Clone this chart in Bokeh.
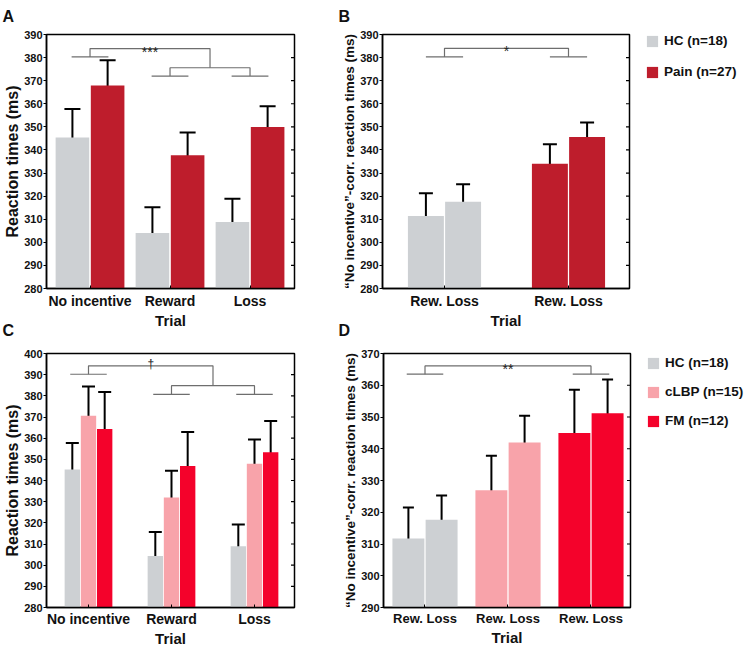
from bokeh.plotting import figure
from bokeh.models import (ColumnDataSource, Whisker, TeeHead, FixedTicker,
                          Range1d, Legend, LegendItem, Title)
from bokeh.layouts import row, column
from bokeh.embed import file_html
from bokeh.resources import INLINE
from bokeh.core.properties import value

FONT = "Liberation Sans"
HC_C = "#cdd0d3"
PAIN_C = "#be1d2c"
CLBP_C = "#f8a3aa"
FM_C = "#f4022b"
BR_C = "#6e6e6e"

# ---------------- data ----------------
trials = ["No incentive", "Reward", "Loss"]

# Panel A (HC vs Pain)
a_hc_mean = [345.4, 304.0, 308.8]
a_hc_lo = [333.2, 292.8, 298.6]
a_hc_hi = [357.7, 315.2, 318.9]
a_pain_mean = [367.9, 337.7, 349.9]
a_pain_lo = [357.5, 327.9, 341.3]
a_pain_hi = [378.9, 347.6, 358.9]

# Panel B (no-incentive corrected; each group: Rew., Loss)
b_groups = ["HC", "Pain"]
b_ticklabels = ["Rew. Loss", "Rew. Loss"]
b_hc_mean = [311.4, 317.6]
b_hc_lo = [301.6, 310.2]
b_hc_hi = [321.2, 325.1]
b_pain_mean = [334.0, 345.6]
b_pain_lo = [325.5, 338.9]
b_pain_hi = [342.5, 351.9]

# Panel C (HC, cLBP, FM)
c_hc_mean = [345.2, 304.3, 308.9]
c_hc_lo = [333.2, 293.3, 298.6]
c_hc_hi = [357.7, 315.7, 319.2]
c_clbp_mean = [370.6, 332.0, 347.9]
c_clbp_lo = [356.9, 319.5, 336.8]
c_clbp_hi = [384.4, 344.6, 359.4]
c_fm_mean = [364.3, 346.8, 353.3]
c_fm_lo = [346.9, 331.0, 338.9]
c_fm_hi = [381.8, 362.9, 368.1]

# Panel D (no-incentive corrected; groups HC, cLBP, FM; each Rew., Loss)
d_ticklabels = ["Rew. Loss", "Rew. Loss", "Rew. Loss"]
d_hc_mean = [311.7, 317.6]
d_hc_lo = [302.0, 310.3]
d_hc_hi = [321.5, 325.3]
d_clbp_mean = [326.9, 342.0]
d_clbp_lo = [316.2, 333.8]
d_clbp_hi = [337.8, 350.4]
d_fm_mean = [345.0, 351.2]
d_fm_lo = [331.5, 340.7]
d_fm_hi = [358.6, 361.8]

# significance bracket levels (ms)
a_br = dict(short=380.3, top=383.9, mid=375.6, low=372.0, mark="***")
b_br = dict(short=380.3, top=384.0, mark="*")
c_br = dict(short=390.2, top=394.2, mid=384.8, low=380.7, mark="\u2020")
d_br = dict(short=363.5, top=366.1, mark="**")


def base_fig(fw, fh, xr, yr, yticks, mbl, mbr, mbt, mbb, letter, loff, lstand, transparent=False):
    p = figure(frame_width=fw, frame_height=fh, x_range=Range1d(*xr), y_range=Range1d(*yr),
               output_backend="svg", toolbar_location=None,
               min_border_left=mbl, min_border_right=mbr, min_border_top=mbt, min_border_bottom=mbb,
               background_fill_color="white",
               border_fill_color=None if transparent else "white",
               title=Title(text=letter, align="left", offset=loff, standoff=lstand,
                           vertical_align="top",
                           text_font=FONT, text_font_style="bold", text_font_size="16px",
                           text_color="#111111"))
    p.grid.visible = False
    p.outline_line_color = "black"
    p.outline_line_width = 1.5
    p.outline_line_alpha = 1.0
    ya = p.yaxis[0]
    ya.ticker = FixedTicker(ticks=yticks)
    ya.major_tick_out = 3
    ya.major_tick_in = 0
    ya.minor_tick_out = 0
    ya.minor_tick_in = 0
    ya.axis_line_width = 1.5
    ya.major_tick_line_width = 1.2
    ya.major_label_text_font = FONT
    ya.major_label_text_font_style = "bold"
    ya.major_label_text_font_size = "11px"
    ya.major_label_text_color = "#111111"
    ya.major_label_standoff = 1
    ya.axis_label_text_font = FONT
    ya.axis_label_text_font_style = "bold"
    ya.axis_label_text_color = "#111111"
    # inward ticks on the right edge of the frame
    du = (xr[1] - xr[0]) / fw
    p.segment(x0=[xr[1]] * len(yticks), y0=yticks, x1=[xr[1] - 3.5 * du] * len(yticks), y1=yticks,
              line_color="black", line_width=1.2)
    xa = p.xaxis[0]
    xa.major_tick_in = 3
    xa.major_tick_out = 0
    xa.minor_tick_in = 0
    xa.minor_tick_out = 0
    xa.axis_line_width = 1.5
    xa.major_label_text_font = FONT
    xa.major_label_text_font_style = "bold"
    xa.major_label_text_color = "#111111"
    xa.axis_label = "Trial"
    xa.axis_label_text_font = FONT
    xa.axis_label_text_font_style = "bold"
    xa.axis_label_text_font_size = "15px"
    xa.axis_label_text_color = "#111111"
    return p


def whiskers(p, xs, lo, hi, head):
    src = ColumnDataSource(dict(x=xs, lo=lo, hi=hi))
    w = Whisker(source=src, base="x", upper="hi", lower="lo", line_color="black", line_width=2,
                upper_head=TeeHead(size=head, line_width=2, line_color="black"),
                lower_head=TeeHead(size=head, line_width=2, line_color="black"))
    p.add_layout(w)


def mark(p, x, y, txt, size, yoff):
    p.text(x=[x], y=[y], text=[txt], text_font=value(FONT), text_font_size=size,
           text_align="center", text_baseline="alphabetic", text_color="#222222", y_offset=yoff)


def tri_bracket(p, br, hw):
    # group 1 vs mean of groups 2 & 3
    s, t, m, l = br["short"], br["top"], br["mid"], br["low"]
    xs = [[1 - hw, 1 + hw], [1, 1, 2.5, 2.5], [2, 2, 3, 3], [2 - hw, 2 + hw], [3 - hw, 3 + hw]]
    ys = [[s, s], [s, t, t, m], [l, m, m, l], [l, l], [l, l]]
    p.multi_line(xs=xs, ys=ys, line_color=BR_C, line_width=1.2)
    dag = br["mark"] == "\u2020"
    mark(p, 1.75, t, br["mark"], "12px" if dag else "14px", -2 if dag else 3)


def pair_bracket(p, br, g1, g2, hw):
    s, t = br["short"], br["top"]
    xs = [[g1 - hw, g1 + hw], [g2 - hw, g2 + hw], [g1, g1, g2, g2]]
    ys = [[s, s], [s, s], [s, t, t, s]]
    p.multi_line(xs=xs, ys=ys, line_color=BR_C, line_width=1.2)
    mark(p, (g1 + g2) / 2, t, br["mark"], "14px", 3)


def legend(items, vy, spacing):
    return Legend(items=items, location=(16, vy), orientation="vertical",
                  glyph_width=14, glyph_height=14, label_height=14, label_width=88,
                  spacing=spacing, padding=0, margin=0, border_line_color=None,
                  background_fill_alpha=0, label_text_font=FONT, label_text_font_style="bold",
                  label_text_font_size="13.5px", label_standoff=5, label_text_color="#111111")


# ---------------- Panel A ----------------
ticks_a = list(range(280, 391, 10))
pA = base_fig(248, 254, (0.456, 3.556), (280, 390), ticks_a, 46, 2, 34, 44, "A", -44, 15)
gA = [1, 2, 3]
pA.vbar(x=[g - 0.22 for g in gA], top=a_hc_mean, bottom=280, width=0.42,
        fill_color=HC_C, line_color=None)
pA.vbar(x=[g + 0.22 for g in gA], top=a_pain_mean, bottom=280, width=0.42,
        fill_color=PAIN_C, line_color=None)
whiskers(pA, [g - 0.22 for g in gA], a_hc_lo, a_hc_hi, 16)
whiskers(pA, [g + 0.22 for g in gA], a_pain_lo, a_pain_hi, 16)
tri_bracket(pA, a_br, 0.23)
pA.xaxis.ticker = FixedTicker(ticks=gA)
pA.xaxis.major_label_overrides = {g: t for g, t in zip(gA, trials)}
pA.xaxis.major_label_text_font_size = "14px"
pA.xaxis.major_label_standoff = 4
pA.xaxis.axis_label_standoff = 0
pA.yaxis[0].axis_label = "Reaction times (ms)"
pA.yaxis[0].axis_label_text_font_size = "16px"
pA.yaxis[0].axis_label_standoff = 0

# ---------------- Panel B ----------------
pB = base_fig(247, 254, (0.5, 2.492), (280, 390), ticks_a, 86, 109, 34, 44, "B", -44, 15)
gB = [1, 2]
rB1 = pB.vbar(x=[1 - 0.15, 1 + 0.15], top=b_hc_mean, bottom=280, width=0.29,
              fill_color=HC_C, line_color=None)
rB2 = pB.vbar(x=[2 - 0.15, 2 + 0.15], top=b_pain_mean, bottom=280, width=0.29,
              fill_color=PAIN_C, line_color=None)
whiskers(pB, [1 - 0.15, 1 + 0.15], b_hc_lo, b_hc_hi, 14)
whiskers(pB, [2 - 0.15, 2 + 0.15], b_pain_lo, b_pain_hi, 14)
pair_bracket(pB, b_br, 1, 2, 0.15)
pB.xaxis.ticker = FixedTicker(ticks=gB)
pB.xaxis.major_label_overrides = {g: t for g, t in zip(gB, b_ticklabels)}
pB.xaxis.major_label_text_font_size = "14px"
pB.xaxis.major_label_standoff = 4
pB.xaxis.axis_label_standoff = 0
pB.yaxis[0].axis_label = "\u201cNo incentive\u201d-corr. reaction times (ms)"
pB.yaxis[0].axis_label_text_font_size = "13.5px"
pB.yaxis[0].axis_label_standoff = 0
pB.add_layout(legend([LegendItem(label="HC (n=18)", renderers=[rB1]),
                      LegendItem(label="Pain (n=27)", renderers=[rB2])], 209, 16), "right")

# ---------------- Panel C ----------------
ticks_c = list(range(280, 401, 10))
pC = base_fig(248, 254, (0.494, 3.482), (280, 400), ticks_c, 46, 2, 45, 35, "C", -44, 26,
              transparent=True)
gC = [1, 2, 3]
pC.vbar(x=[g - 0.195 for g in gC], top=c_hc_mean, bottom=280, width=0.185,
        fill_color=HC_C, line_color=None)
pC.vbar(x=gC, top=c_clbp_mean, bottom=280, width=0.185,
        fill_color=CLBP_C, line_color=None)
pC.vbar(x=[g + 0.195 for g in gC], top=c_fm_mean, bottom=280, width=0.185,
        fill_color=FM_C, line_color=None)
whiskers(pC, [g - 0.195 for g in gC], c_hc_lo, c_hc_hi, 13)
whiskers(pC, gC, c_clbp_lo, c_clbp_hi, 13)
whiskers(pC, [g + 0.195 for g in gC], c_fm_lo, c_fm_hi, 13)
tri_bracket(pC, c_br, 0.22)
pC.xaxis.ticker = FixedTicker(ticks=gC)
pC.xaxis.major_label_overrides = {g: t for g, t in zip(gC, trials)}
pC.xaxis.major_label_text_font_size = "14px"
pC.xaxis.major_label_standoff = 3
pC.xaxis.axis_label_standoff = 0
pC.yaxis[0].axis_label = "Reaction times (ms)"
pC.yaxis[0].axis_label_text_font_size = "16px"
pC.yaxis[0].axis_label_standoff = 0

# ---------------- Panel D ----------------
ticks_d = list(range(290, 371, 10))
pD = base_fig(247, 254, (0.5, 3.476), (290, 370), ticks_d, 87, 108, 45, 35, "D", -45, 26,
              transparent=True)
gD = [1, 2, 3]
rD1 = pD.vbar(x=[1 - 0.2, 1 + 0.2], top=d_hc_mean, bottom=290, width=0.385,
              fill_color=HC_C, line_color=None)
rD2 = pD.vbar(x=[2 - 0.2, 2 + 0.2], top=d_clbp_mean, bottom=290, width=0.385,
              fill_color=CLBP_C, line_color=None)
rD3 = pD.vbar(x=[3 - 0.2, 3 + 0.2], top=d_fm_mean, bottom=290, width=0.385,
              fill_color=FM_C, line_color=None)
whiskers(pD, [1 - 0.2, 1 + 0.2], d_hc_lo, d_hc_hi, 11)
whiskers(pD, [2 - 0.2, 2 + 0.2], d_clbp_lo, d_clbp_hi, 11)
whiskers(pD, [3 - 0.2, 3 + 0.2], d_fm_lo, d_fm_hi, 11)
pair_bracket(pD, d_br, 1, 3, 0.22)
pD.xaxis.ticker = FixedTicker(ticks=gD)
pD.xaxis.major_label_overrides = {g: t for g, t in zip(gD, d_ticklabels)}
pD.xaxis.major_label_text_font_size = "13px"
pD.xaxis.major_label_standoff = 3
pD.xaxis.axis_label_standoff = 0
pD.yaxis[0].axis_label = "\u201cNo incentive\u201d-corr. reaction times (ms)"
pD.yaxis[0].axis_label_text_font_size = "13.5px"
pD.yaxis[0].axis_label_standoff = 0
pD.add_layout(legend([LegendItem(label="HC (n=18)", renderers=[rD1]),
                      LegendItem(label="cLBP (n=15)", renderers=[rD2]),
                      LegendItem(label="FM (n=12)", renderers=[rD3])], 179, 14), "right")

layout = column(row(pA, pB), row(pC, pD, margin=(-24, 0, 0, 0)))
open("out.html", "w").write(file_html(layout, INLINE))
